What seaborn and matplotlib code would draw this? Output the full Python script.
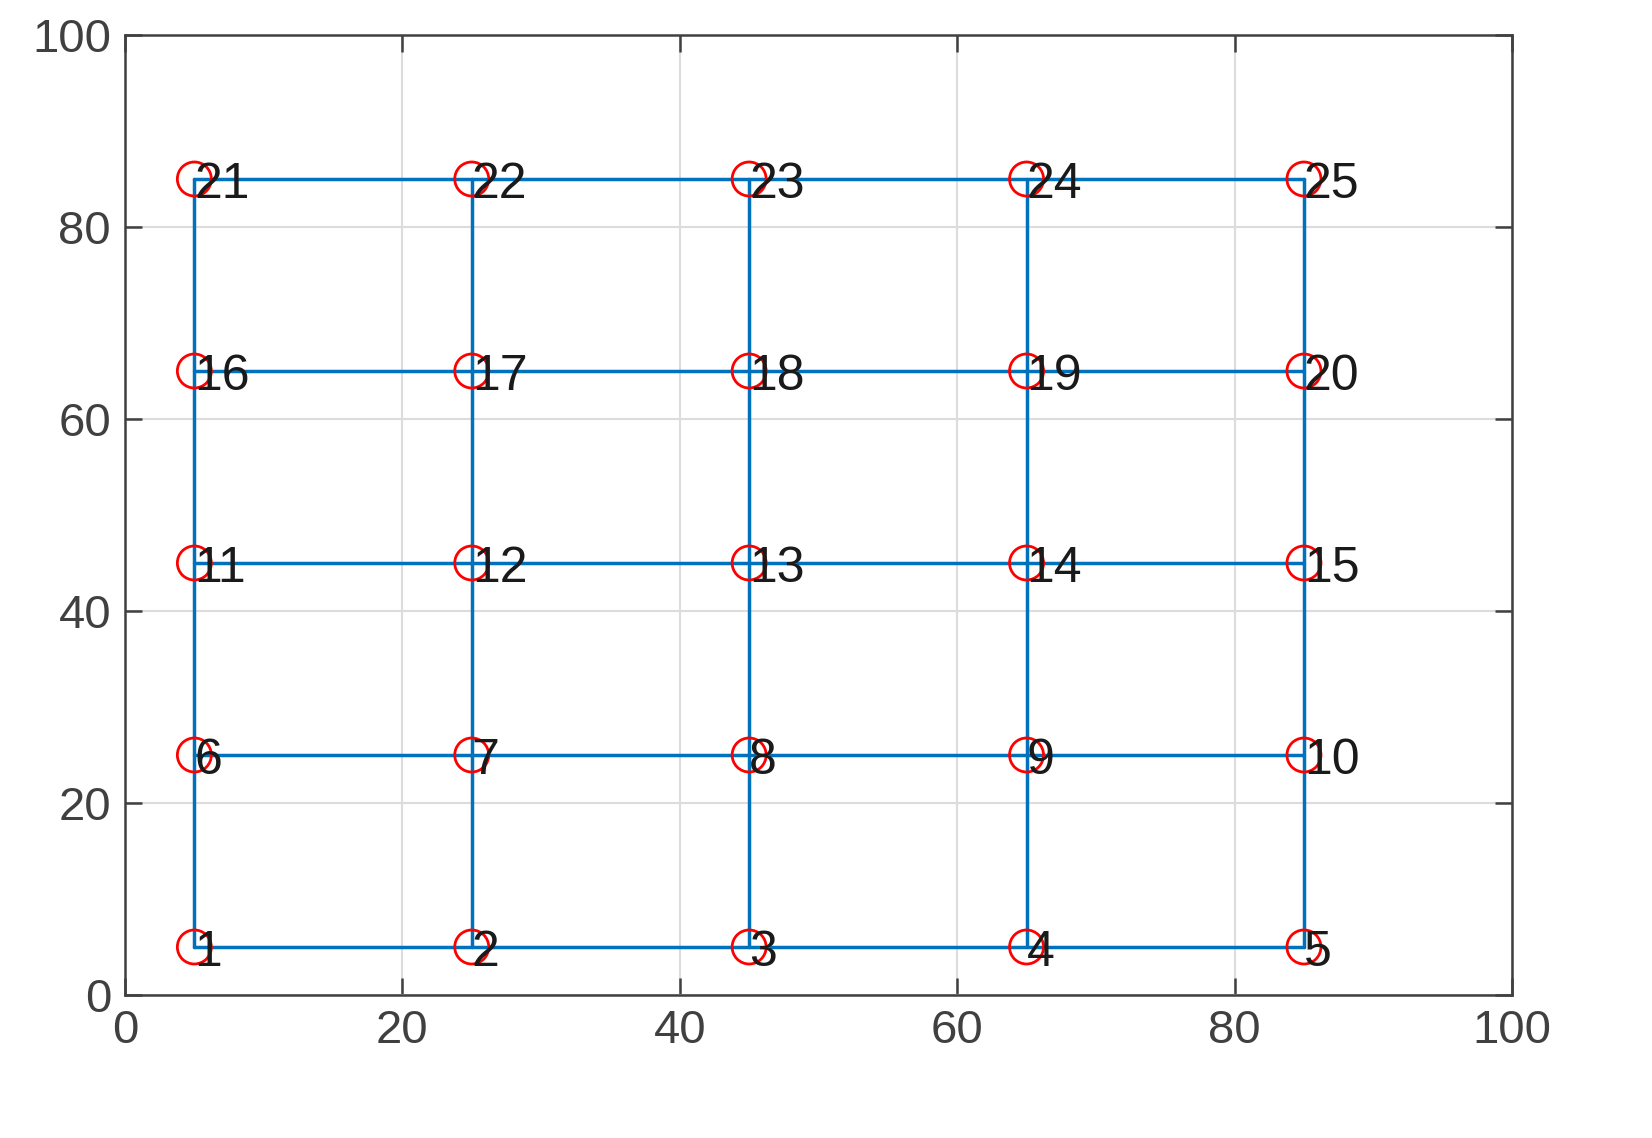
import matplotlib.pyplot as plt
import seaborn as sns
import pandas as pd

sns.set_theme(style='white')
plt.rcParams['font.family'] = ['Liberation Sans', 'DejaVu Sans']

xs = [5, 25, 45, 65, 85]
ys = [5, 25, 45, 65, 85]

rows = []
n = 1
for y in ys:
    for x in xs:
        rows.append({'x': x, 'y': y, 'id': n})
        n += 1
nodes = pd.DataFrame(rows)

fig = plt.figure(figsize=(16.52, 11.38), dpi=100)
ax = fig.add_axes([125 / 1652, 1 - 995 / 1138, (1512 - 125) / 1652, (995 - 35) / 1138])

blue = '#0072BD'
for y in ys:
    row = nodes[nodes['y'] == y]
    sns.lineplot(data=row, x='x', y='y', color=blue, lw=2.5, ax=ax, sort=True, estimator=None)
for x in xs:
    col = nodes[nodes['x'] == x]
    ax.plot(col['x'], col['y'], color=blue, lw=2.5)

sns.scatterplot(data=nodes, x='x', y='y', marker='o', s=600, facecolor='none',
                edgecolor='red', linewidth=2, ax=ax, zorder=3)
for _, r in nodes.iterrows():
    ax.text(r['x'], r['y'] - 0.6, str(r['id']), fontsize=36, color='#1a1a1a',
            ha='left', va='center', zorder=4)

ax.set_xlim(0, 100)
ax.set_ylim(0, 100)
ax.set_xticks(range(0, 101, 20))
ax.set_yticks(range(0, 101, 20))
ax.set_xlabel('')
ax.set_ylabel('')
ax.grid(True, color='#dcdcdc', lw=1.5)
ax.tick_params(direction='in', length=12, width=1.8, labelsize=34, colors='#404040',
               top=True, right=True, bottom=True, left=True, pad=10)
for s in ax.spines.values():
    s.set_color('#404040')
    s.set_linewidth(1.8)

fig.savefig('out.png', dpi=100)
